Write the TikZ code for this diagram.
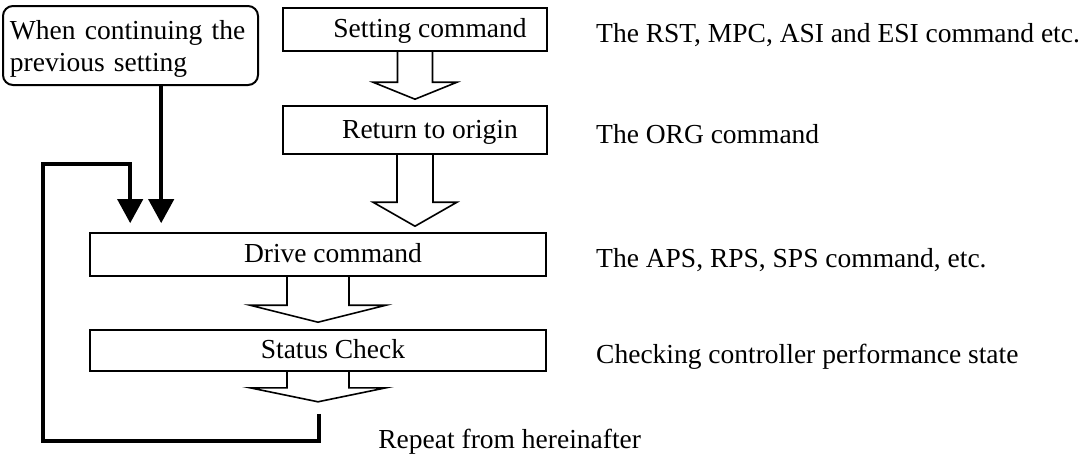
\documentclass[tikz,border=0pt]{standalone}
\usepackage{fontspec}
\setmainfont{Liberation Serif}
\usetikzlibrary{arrows.meta,calc}
% hollow block arrow: from node, tip, shaft half width, head half width, head length
\newcommand{\hollowarrow}[5]{%
  \draw[hollow] ($(#1.south)+(-#3,0)$) |- ($(#2)+(-#4,-#5)$) -- (#2)
    -- ($(#2)+(#4,-#5)$) -| ($(#1.south)+(#3,0)$);}

\begin{document}
\begin{tikzpicture}[
  x=0.5pt, y=-0.5pt,
  every node/.style={font=\fontsize{13.75}{16}\selectfont, inner sep=0pt},
  stepbox/.style={draw, line width=0.8pt, minimum height=21.5pt, text height=0.8em, text depth=0pt,
    execute at begin node=\hspace*{15pt}},
  hollow/.style={line width=0.8pt, line join=miter},
  feed/.style={line width=2pt, -{Triangle[length=12pt,width=12.5pt]}},
  note/.style={anchor=base west}
]
\useasboundingbox (0,0) rectangle (1084,455);

% flow boxes
\node[stepbox, minimum width=132pt] (setting) at (415,29.5) {Setting command};
\node[stepbox, minimum width=132pt, minimum height=24pt] (origin) at (415,130) {Return to origin};
\node[stepbox, minimum width=228pt] (drive) at (318,254.5) {Drive command};
\node[stepbox, minimum width=228pt, minimum height=20.5pt] (status) at (318,350.5) {Status Check};
\node[draw, line width=1pt, rounded corners=5pt, minimum width=127.5pt, minimum height=39.5pt,
  text width=120.5pt, align=left] (prev) at (130.5,45.5) {\rule{0pt}{13.4pt}When continuing the\\previous setting};

% notes on the right
\node[note] (setnote) at ($(setting.east)+(48,13)$) {The RST, MPC, ASI and ESI command etc.};
\node[note] (orgnote) at ($(origin.east)+(48,13)$) {The ORG command};
\node[note] (drvnote) at ($(drive.east)+(49,13)$) {The APS, RPS, SPS command, etc.};
\node[note] (stsnote) at ($(status.east)+(49,13)$) {Checking controller performance state};
\node[note] (repeat) at ($(status.south)+(60,77)$) {Repeat from hereinafter};

% arrow tips
\coordinate (t1) at ($(origin.north)+(0,-6)$);
\coordinate (t2) at ($(origin.south |- drive.north)+(0,-6)$);
\coordinate (t3) at ($(status.north)+(0,-7)$);
\coordinate (t4) at ($(status.south)+(0,30)$);
\coordinate (in1) at ($(drive.north west)+(41,-9)$);
\coordinate (in2) at ($(drive.north west)+(72,-9)$);

\hollowarrow{setting}{t1}{17.5}{42}{17}
\hollowarrow{origin}{t2}{18}{42}{24}
\hollowarrow{drive}{t3}{31}{68}{17}
\hollowarrow{status}{t4}{31}{68}{14}

% loop back
\draw[feed] (prev.south -| in2) -- (in2);
\draw[feed] ($(t4)+(1,12)$) -- ++(0,27) -| ++(-276,-277) -| (in1);
\end{tikzpicture}
\end{document}
